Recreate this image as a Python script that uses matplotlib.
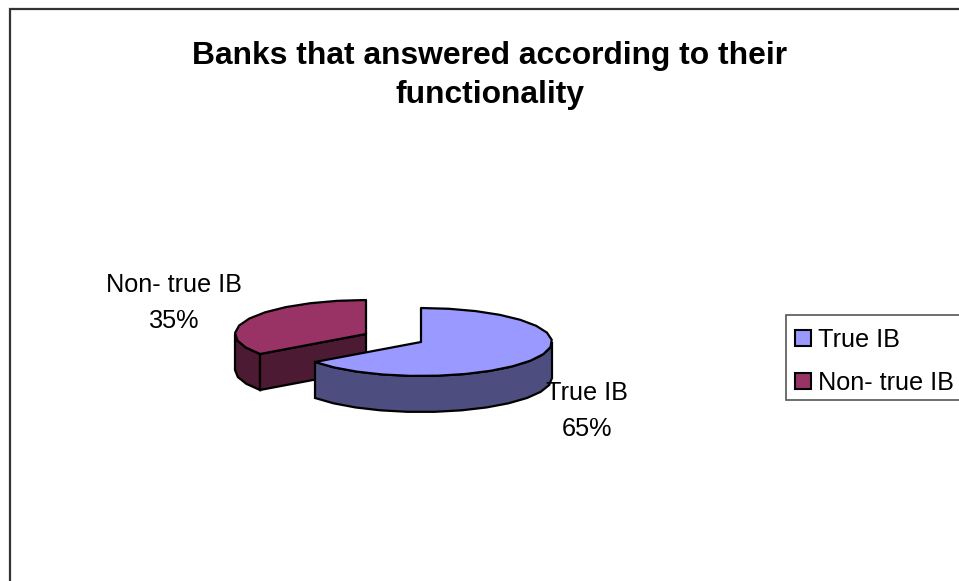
import numpy as np
import matplotlib
matplotlib.use("Agg")
import matplotlib.pyplot as plt
from matplotlib.patches import Polygon, Rectangle, Patch

plt.rcParams['font.family'] = ['Liberation Sans', 'DejaVu Sans']

title = "Banks that answered according to their\nfunctionality"
categories = ["True IB", "Non- true IB"]
values = [65, 35]

face_colors = ["#9999FF", "#993366"]
side_colors = ["#4D4D80", "#4D1A33"]
centers = [(421, 342), (366, 334)]
label_pos = [(587, 411), (174, 303)]
RX, RY, DEPTH = 131, 34, 36
EDGE = "#000000"
LW = 1.6

fig = plt.figure(figsize=(9.59, 5.81), dpi=100)
ax = fig.add_axes([0, 0, 1, 1])
ax.set_xlim(0, 959)
ax.set_ylim(581, 0)
ax.axis("off")

ax.add_patch(Rectangle((9.5, 8.5), 1000, 700, fc="white", ec="#333333", lw=1.6, zorder=0))
ax.add_patch(Rectangle((786, 315), 220, 85, fc="white", ec="#555555", lw=1.2, zorder=1))


def rim(cx, cy, a0, a1, dy=0):
    n = max(2, int(abs(a1 - a0) / 12) + 1)
    t = np.radians(np.linspace(a0, a1, n))
    return np.column_stack([cx + RX * np.cos(t), cy - RY * np.sin(t) + dy])


total = sum(values)
sweeps = [360.0 * v / total for v in values]

# second slice (behind): runs counter-clockwise from the top
lo, hi = 90.0, 90.0 + sweeps[1]
c = centers[1]
outer = rim(*c, 180, hi)
outer_low = rim(*c, 180, hi, DEPTH)
ax.add_patch(Polygon(np.vstack([outer, outer_low[::-1]]), fc=side_colors[1], ec=EDGE, lw=LW, zorder=2))
front = rim(*c, hi, hi)[0]
ax.add_patch(Polygon([c, front, (front[0], front[1] + DEPTH), (c[0], c[1] + DEPTH)],
                     fc=side_colors[1], ec=EDGE, lw=LW, zorder=2))
ax.add_patch(Polygon(np.vstack([[c], rim(*c, lo, hi)]), fc=face_colors[1], ec=EDGE, lw=LW, zorder=3,
                     joinstyle="round"))

# first slice (in front): runs clockwise from the top
lo, hi = 90.0 - sweeps[0], 90.0
c = centers[0]
outer = rim(*c, lo, 0)
outer_low = rim(*c, lo, 0, DEPTH)
ax.add_patch(Polygon(np.vstack([outer, outer_low[::-1]]), fc=side_colors[0], ec=EDGE, lw=LW, zorder=4))
ax.add_patch(Polygon(np.vstack([[c], rim(*c, lo, hi)]), fc=face_colors[0], ec=EDGE, lw=LW, zorder=5,
                     joinstyle="round"))

for name, v, (x, y) in zip(categories, values, label_pos):
    ax.text(x, y, f"{name}\n{v}%", ha="center", va="center", fontsize=18.2,
            linespacing=1.6, color="black", zorder=6)

ax.text(490, 75.5, title, ha="center", va="center", fontsize=22.9, fontweight="bold",
        linespacing=1.36, color="black")

handles = [Patch(fc=f, ec="black", lw=1.5) for f in face_colors]
leg = ax.legend(handles, categories, loc="upper left", bbox_to_anchor=(786 / 959, 1 - 319 / 581),
                bbox_transform=fig.transFigure, fontsize=18.2, frameon=False,
                borderaxespad=0, borderpad=0.36,
                handlelength=0.62, handleheight=0.62, handletextpad=0.28, labelspacing=0.74)

fig.savefig("out.png", dpi=100)
